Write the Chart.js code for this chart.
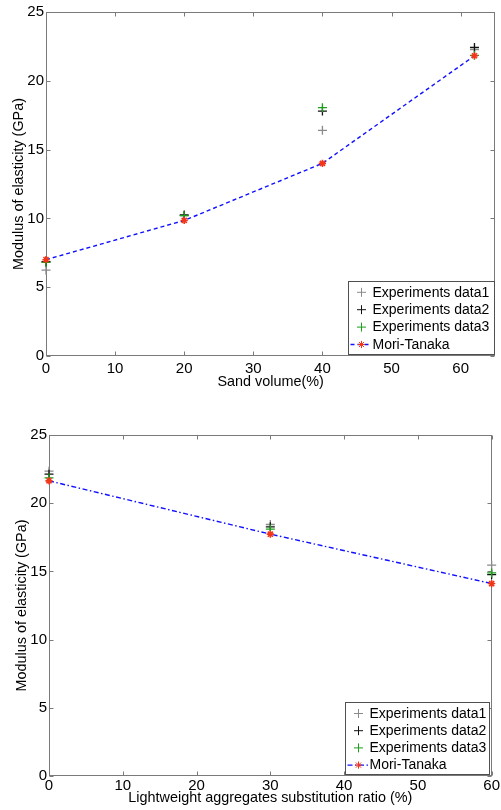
<!DOCTYPE html>
<html>
<head>
<meta charset="utf-8">
<script src="https://cdn.jsdelivr.net/npm/chart.js@4/dist/chart.umd.min.js"></script>
<style>
  html, body { margin: 0; padding: 0; background: #fff; }
  canvas { display: block; }
</style>
</head>
<body>
<canvas id="sandChart" width="501" height="405"></canvas>
<canvas id="lwaChart" width="501" height="405"></canvas>
<script>
// Modulus vs sand volume
const sandVolume = [0, 20, 40, 62];
const sandData1 = [6.24, 10.2, 16.4, 22.26];
const sandData2 = [6.85, 10.25, 17.8, 22.42];
const sandData3 = [6.8, 10.2, 18.05, 21.85];
const sandMoriTanaka = [7.0, 9.85, 14.0, 21.82];
const sandXTicks = [0, 10, 20, 30, 40, 50, 60];

// Modulus vs lightweight aggregate substitution
const lwaRatio = [0, 30, 60];
const lwaData1 = [22.35, 18.44, 15.46];
const lwaData2 = [22.13, 18.27, 14.77];
const lwaData3 = [21.86, 18.1, 14.89];
const lwaMoriTanaka = [21.64, 17.73, 14.11];
const lwaXTicks = [0, 10, 20, 30, 40, 50, 60];

const yTicks = [0, 5, 10, 15, 20, 25];
const seriesLabels = ['Experiments data1', 'Experiments data2', 'Experiments data3', 'Mori-Tanaka'];

const AXIS_COLOR = '#7a7a7a';
const FAMILY = '"Liberation Sans", Arial, sans-serif';
const TICK_FONT = { family: FAMILY, size: 15 };
const TITLE_FONT = { family: FAMILY, size: 14.4 };
const LEGEND_FONT = `14px ${FAMILY}`;

const toPoints = (xs, ys) => xs.map((x, i) => ({ x, y: ys[i] }));

// Box around the plot area with inward tick marks on all four sides
const axesBox = {
    id: 'axesBox',
    beforeDatasetsDraw(chart) {
        const { ctx, chartArea: a, scales: { x, y } } = chart;
        const L = Math.round(a.left) + 0.5, R = Math.round(a.right) - 0.5;
        const T = Math.round(a.top) + 0.5, B = Math.round(a.bottom) - 0.5;
        const len = 4;
        ctx.save();
        ctx.strokeStyle = AXIS_COLOR;
        ctx.lineWidth = 1;
        ctx.strokeRect(L, T, R - L, B - T);
        ctx.beginPath();
        x.ticks.forEach(t => {
            const px = Math.round(x.getPixelForValue(t.value)) + 0.5;
            ctx.moveTo(px, B); ctx.lineTo(px, B - len);
            ctx.moveTo(px, T); ctx.lineTo(px, T + len);
        });
        y.ticks.forEach(t => {
            const py = Math.round(y.getPixelForValue(t.value)) + 0.5;
            ctx.moveTo(L, py); ctx.lineTo(L + len, py);
            ctx.moveTo(R, py); ctx.lineTo(R - len, py);
        });
        ctx.stroke();
        ctx.restore();
    }
};

// Boxed legend in the lower right corner of the plot
const boxLegend = {
    id: 'boxLegend',
    afterDraw(chart, args, o) {
        const { ctx, chartArea: a } = chart;
        const left = Math.round(a.right - o.rightGap - o.width) + 0.5;
        const top = Math.round(a.bottom - o.bottomGap - o.height) + 0.5;
        ctx.save();
        ctx.fillStyle = '#fff';
        ctx.fillRect(left, top, o.width, o.height);
        ctx.strokeStyle = '#505050';
        ctx.lineWidth = 1;
        ctx.strokeRect(left, top, o.width, o.height);

        ctx.font = LEGEND_FONT;
        ctx.textBaseline = 'middle';
        ctx.textAlign = 'left';
        chart.data.datasets.forEach((ds, i) => {
            const cy = top + o.firstRow + i * o.rowStep;
            const cx = left + 13;
            if (ds.showLine) {
                ctx.save();
                ctx.strokeStyle = ds.borderColor;
                ctx.lineWidth = ds.borderWidth;
                ctx.setLineDash(ds.borderDash);
                ctx.beginPath();
                ctx.moveTo(left + 2, cy);
                ctx.lineTo(left + 23, cy);
                ctx.stroke();
                ctx.restore();
            }
            ctx.strokeStyle = ds.pointBorderColor;
            ctx.fillStyle = ds.pointBorderColor;
            Chart.helpers.drawPoint(ctx, {
                pointStyle: ds.pointStyle, radius: ds.pointRadius,
                borderWidth: ds.pointBorderWidth, rotation: 0
            }, cx, cy);
            ctx.fillStyle = '#000';
            ctx.fillText(ds.label, left + 24, cy + 0.5);
        });
        ctx.restore();
    }
};

function experimentSet(label, data, color, order) {
    return {
        label, data, order,
        showLine: false,
        pointStyle: 'cross',
        pointRadius: 4.5,
        pointBorderWidth: 1.3,
        pointBorderColor: color,
        pointBackgroundColor: color,
        borderColor: color,
        clip: false
    };
}

function modelSet(label, data, dash) {
    return {
        label, data, order: 1,
        showLine: true,
        borderColor: '#1010ff',
        borderWidth: 1.4,
        borderDash: dash,
        pointStyle: 'star',
        pointRadius: 3.6,
        pointBorderWidth: 1.6,
        pointBorderColor: '#f2361a',
        pointBackgroundColor: '#f2361a',
        clip: false
    };
}

function buildChart(id, datasets, opt) {
    return new Chart(document.getElementById(id), {
        type: 'scatter',
        data: { datasets },
        options: {
            responsive: false,
            animation: false,
            events: [],
            layout: { padding: { top: opt.padTop, right: opt.padRight, left: 0, bottom: 0 } },
            plugins: {
                legend: { display: false },
                tooltip: { enabled: false },
                boxLegend: opt.legend
            },
            scales: {
                x: {
                    type: 'linear',
                    min: 0,
                    max: opt.xMax,
                    grid: { display: false, drawTicks: false },
                    border: { display: false },
                    afterBuildTicks: s => { s.ticks = opt.xTicks.map(v => ({ value: v })); },
                    afterFit: s => { s.height = opt.xHeight; },
                    ticks: { color: '#000', font: TICK_FONT, padding: opt.xTickPad, maxRotation: 0, autoSkip: false },
                    title: {
                        display: true, text: opt.xTitle, color: '#000', font: TITLE_FONT,
                        padding: { top: 0, bottom: opt.xTitlePad }
                    }
                },
                y: {
                    type: 'linear',
                    min: 0,
                    max: 25,
                    grid: { display: false, drawTicks: false },
                    border: { display: false },
                    afterBuildTicks: s => { s.ticks = yTicks.map(v => ({ value: v })); },
                    afterFit: s => { s.width = opt.yWidth; },
                    ticks: { color: '#000', font: TICK_FONT, padding: 2, autoSkip: false },
                    title: {
                        display: true, text: 'Modulus of elasticity (GPa)', color: '#000', font: TITLE_FONT,
                        padding: { top: opt.yTitlePad, bottom: 0 }
                    }
                }
            }
        },
        plugins: [axesBox, boxLegend]
    });
}

buildChart('sandChart', [
    experimentSet(seriesLabels[0], toPoints(sandVolume, sandData1), '#8a8a8a', 4),
    experimentSet(seriesLabels[1], toPoints(sandVolume, sandData2), '#111111', 3),
    experimentSet(seriesLabels[2], toPoints(sandVolume, sandData3), '#1aa01a', 2),
    modelSet(seriesLabels[3], toPoints(sandVolume, sandMoriTanaka), [4, 3])
], {
    padTop: 12, padRight: 4, xHeight: 49, yWidth: 46, xMax: 65,
    xTicks: sandXTicks, xTickPad: 4, xTitle: 'Sand volume(%)', xTitlePad: 14, yTitlePad: 10,
    legend: { width: 146, height: 73, rightGap: 1, bottomGap: 2, firstRow: 10.8, rowStep: 17.4 }
});

buildChart('lwaChart', [
    experimentSet(seriesLabels[0], toPoints(lwaRatio, lwaData1), '#8a8a8a', 4),
    experimentSet(seriesLabels[1], toPoints(lwaRatio, lwaData2), '#111111', 3),
    experimentSet(seriesLabels[2], toPoints(lwaRatio, lwaData3), '#1aa01a', 2),
    modelSet(seriesLabels[3], toPoints(lwaRatio, lwaMoriTanaka), [5, 2.5, 1.5, 2.5])
], {
    padTop: 30, padRight: 4, xHeight: 34, yWidth: 49, xMax: 60,
    xTicks: lwaXTicks, xTickPad: 1, xTitle: 'Lightweight aggregates substitution ratio (%)', xTitlePad: 3, yTitlePad: 13,
    legend: { width: 144, height: 72, rightGap: 3, bottomGap: 2, firstRow: 11, rowStep: 17.2 }
});
</script>
</body>
</html>
